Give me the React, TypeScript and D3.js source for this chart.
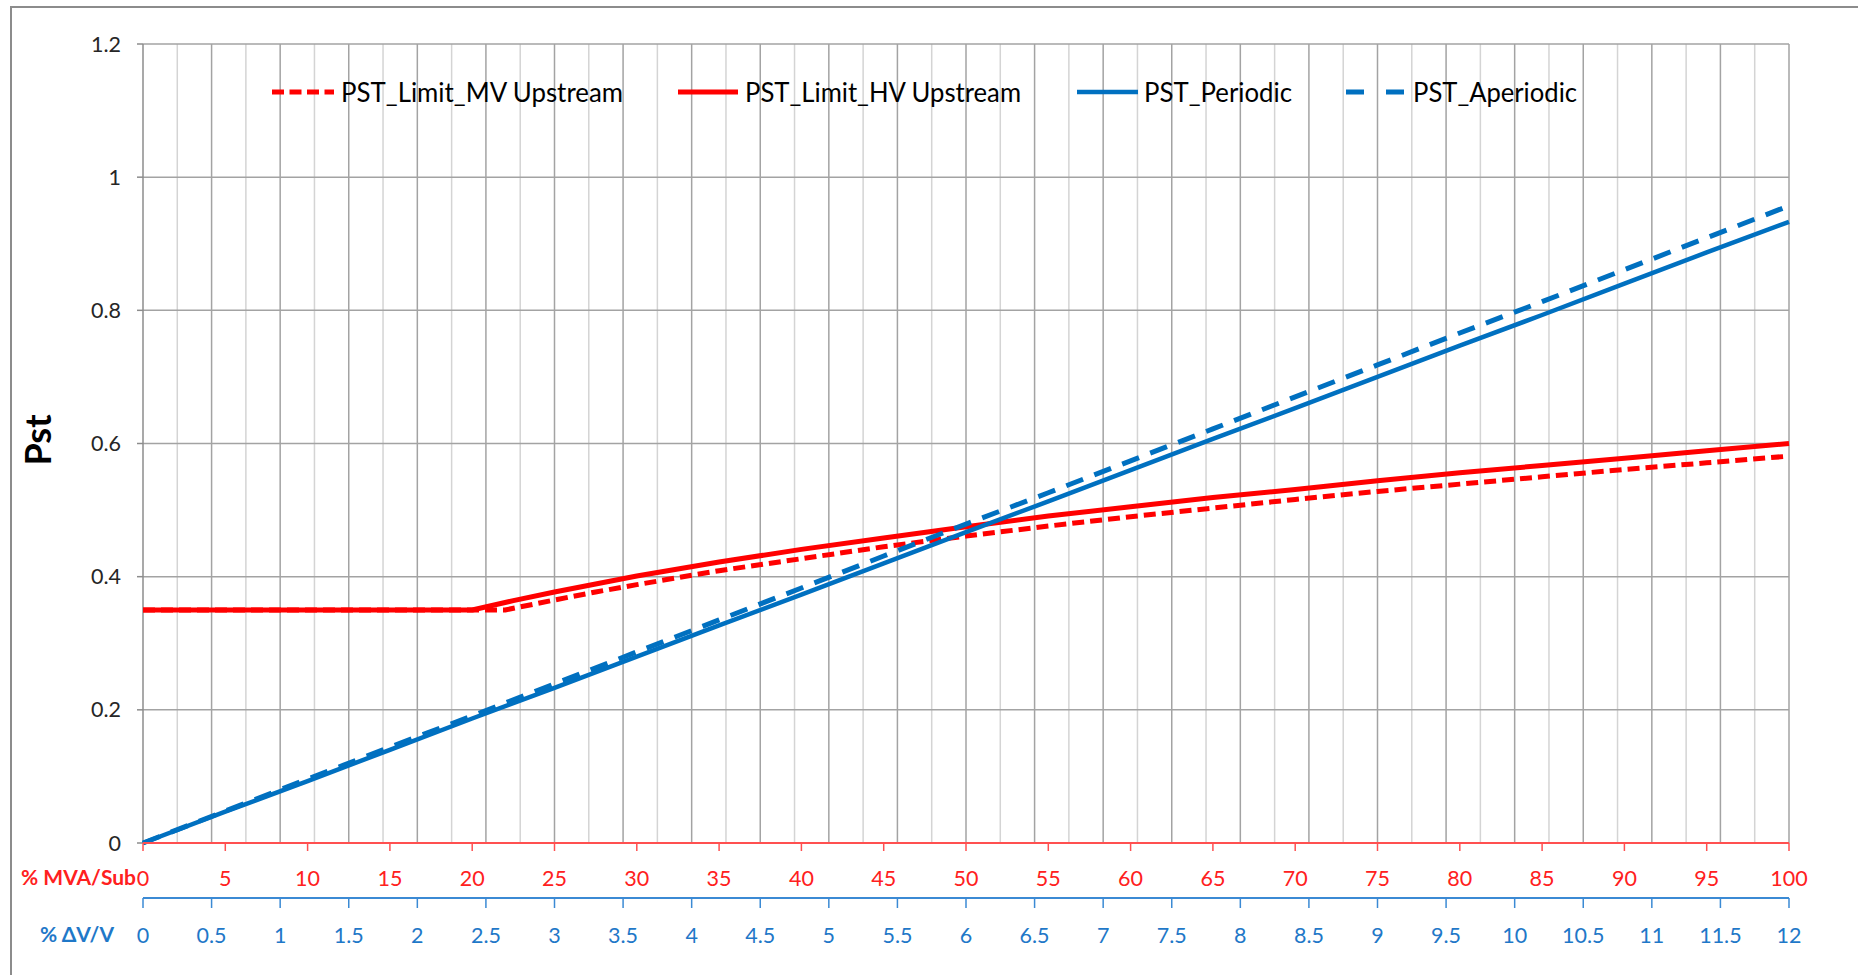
import React from "react";
import * as d3 from "d3";

// ---- data ----
const mvaTicks = [0, 5, 10, 15, 20, 25, 30, 35, 40, 45, 50, 55, 60, 65, 70, 75, 80, 85, 90, 95, 100];
const dvTicks = [0, 0.5, 1, 1.5, 2, 2.5, 3, 3.5, 4, 4.5, 5, 5.5, 6, 6.5, 7, 7.5, 8, 8.5, 9, 9.5, 10, 10.5, 11, 11.5, 12];
const pstTicks = [0, 0.2, 0.4, 0.6, 0.8, 1, 1.2];

const blueX = [0, 5, 10, 15, 20, 25, 30, 35, 40, 45, 50, 55, 60, 65, 70, 75, 80, 85, 90, 95, 100];
const periodic = [0, 0.047, 0.093, 0.14, 0.187, 0.233, 0.28, 0.327, 0.373, 0.42, 0.467, 0.513, 0.56, 0.607, 0.653, 0.7, 0.747, 0.793, 0.84, 0.887, 0.933];
const aperiodic = [0, 0.048, 0.096, 0.144, 0.191, 0.239, 0.287, 0.335, 0.383, 0.431, 0.479, 0.526, 0.574, 0.622, 0.67, 0.718, 0.766, 0.813, 0.861, 0.909, 0.957];

const hvX = [0, 5, 10, 15, 20, 22.5, 25, 27.5, 30, 35, 40, 45, 50, 55, 60, 65, 70, 75, 80, 85, 90, 95, 100];
const hvLimit = [0.35, 0.35, 0.35, 0.35, 0.35, 0.364, 0.377, 0.389, 0.401, 0.422, 0.441, 0.458, 0.475, 0.491, 0.505, 0.519, 0.531, 0.544, 0.556, 0.567, 0.578, 0.589, 0.6];

const mvX = [0, 5, 10, 15, 20, 22, 25, 27.5, 30, 35, 40, 45, 50, 55, 60, 65, 70, 75, 80, 85, 90, 95, 100];
const mvLimit = [0.35, 0.35, 0.35, 0.35, 0.35, 0.35, 0.365, 0.377, 0.388, 0.409, 0.427, 0.445, 0.461, 0.476, 0.49, 0.503, 0.516, 0.528, 0.539, 0.55, 0.561, 0.571, 0.581];

const seriesNames = ["PST_Limit_MV Upstream", "PST_Limit_HV Upstream", "PST_Periodic", "PST_Aperiodic"];

const RED = "#FF0000";
const BLUE = "#0070C0";
const FONT = "Lato, 'Open Sans', sans-serif";

export default function App() {
  const left = 143, right = 1789, top = 44, bottom = 843;
  const xM = d3.scaleLinear().domain([0, 100]).range([left, right]);
  const xD = d3.scaleLinear().domain([0, 12]).range([left, right]);
  const y = d3.scaleLinear().domain([0, 1.2]).range([bottom, top]);

  const mk = (xs: number[], ys: number[]) =>
    d3.line<number>().x((_, i) => xM(xs[i])).y((v) => y(v))(ys) || "";

  const minorGrid = d3.range(1, 49).map((i) => i * 0.25);
  const blueAxisY = 898;

  const styles = [
    { color: RED, dash: "12 6", w: 5 },
    { color: RED, dash: "", w: 5 },
    { color: BLUE, dash: "", w: 4.5 },
    { color: BLUE, dash: "18 12", w: 5 },
  ];
  const legendPos = [
    { lx: 272, len: 62, dash: "12 5.5", tx: 341, tl: 282 },
    { lx: 678, len: 60, dash: "", tx: 745, tl: 276 },
    { lx: 1077, len: 61, dash: "", tx: 1144, tl: 148 },
    { lx: 1346, len: 60, dash: "18 22", tx: 1413, tl: 164 },
  ];

  return (
    <div style={{ position: "absolute", left: 0, top: 0 }}>
      <svg width={1858} height={975} style={{ display: "block", background: "#fff" }}>
        <rect x={0} y={0} width={1858} height={975} fill="#fff" />
        <rect x={11} y={7} width={1900} height={1000} fill="none" stroke="#8c8c8c" strokeWidth={2} />

        {/* vertical gridlines */}
        {minorGrid.map((v, i) => (
          <line key={"vg" + i} x1={xD(v)} x2={xD(v)} y1={top} y2={bottom}
            stroke={i % 2 === 1 ? "#A3A3A3" : "#D4D4D4"} strokeWidth={1.5} />
        ))}
        {/* horizontal gridlines */}
        {pstTicks.filter((t) => t > 0).map((t) => (
          <line key={"hg" + t} x1={left} x2={right} y1={y(t)} y2={y(t)} stroke="#A3A3A3" strokeWidth={1.5} />
        ))}

        {/* y axis */}
        <line x1={left} x2={left} y1={top} y2={bottom} stroke="#8c8c8c" strokeWidth={1.5} />
        {pstTicks.map((t) => (
          <g key={"yt" + t}>
            <line x1={left - 6} x2={left} y1={y(t)} y2={y(t)} stroke="#8c8c8c" strokeWidth={1.5} />
            <text x={121} y={y(t)} dy="0.35em" textAnchor="end" fontFamily={FONT} fontSize={21.5} fill="#262626">
              {String(t)}
            </text>
          </g>
        ))}
        <text transform="translate(38,440) rotate(-90)" textAnchor="middle" dy="0.36em"
          fontFamily={FONT} fontWeight="bold" fontSize={36} fill="#000">Pst</text>

        {/* series */}
        {[
          { d: mk(mvX, mvLimit), s: styles[0] },
          { d: mk(hvX, hvLimit), s: styles[1] },
          { d: mk(blueX, periodic), s: styles[2] },
          { d: mk(blueX, aperiodic), s: styles[3] },
        ].map((o, i) => (
          <path key={"s" + i} d={o.d} fill="none" stroke={o.s.color} strokeWidth={o.s.w}
            strokeDasharray={o.s.dash || undefined} strokeLinejoin="round" />
        ))}

        {/* red MVA axis */}
        <line x1={left} x2={right} y1={bottom} y2={bottom} stroke="#FF5050" strokeWidth={2} />
        {mvaTicks.map((t) => (
          <g key={"mt" + t}>
            <line x1={xM(t)} x2={xM(t)} y1={bottom} y2={bottom + 8} stroke="#FF5050" strokeWidth={1.5} />
            <text x={xM(t)} y={878} dy="0.35em" textAnchor="middle" fontFamily={FONT} fontSize={21.5} fill="#FF2020">
              {String(t)}
            </text>
          </g>
        ))}
        <text x={136} y={878} dy="0.35em" textAnchor="end" fontFamily={FONT} fontWeight="bold" fontSize={21} fill="#FF2020">% MVA/Sub</text>

        {/* blue dV/V axis */}
        <line x1={left} x2={right} y1={blueAxisY} y2={blueAxisY} stroke="#3B8AD4" strokeWidth={2} />
        {dvTicks.map((t) => (
          <g key={"dt" + t}>
            <line x1={xD(t)} x2={xD(t)} y1={blueAxisY} y2={blueAxisY + 10} stroke="#3B8AD4" strokeWidth={1.5} />
            <text x={xD(t)} y={935} dy="0.35em" textAnchor="middle" fontFamily={FONT} fontSize={21.5} fill="#1F78C8">
              {String(t)}
            </text>
          </g>
        ))}
        <text x={77} y={935} dy="0.35em" textAnchor="middle" fontFamily={FONT} fontWeight="bold" fontSize={21} fill="#1F78C8">% ΔV/V</text>

        {/* legend */}
        {seriesNames.map((n, i) => (
          <g key={"lg" + i}>
            <line x1={legendPos[i].lx} x2={legendPos[i].lx + legendPos[i].len} y1={92} y2={92}
              stroke={styles[i].color} strokeWidth={styles[i].w}
              strokeDasharray={legendPos[i].dash || undefined} />
            <text x={legendPos[i].tx} y={92} dy="0.36em" fontFamily={FONT} fontSize={27}
              textLength={legendPos[i].tl} lengthAdjust="spacingAndGlyphs" fill="#000">{n}</text>
          </g>
        ))}
      </svg>
    </div>
  );
}
